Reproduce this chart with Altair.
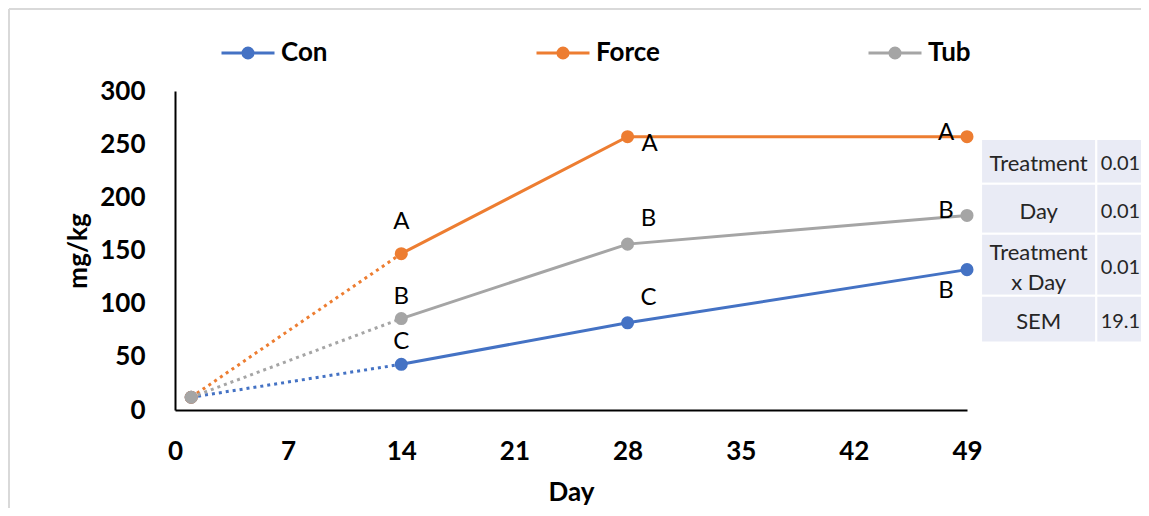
import altair as alt
import pandas as pd

# ---------------- data ----------------
series = ["Con", "Force", "Tub"]
colors = ["#4472C4", "#ED7D31", "#A5A5A5"]
days = [1, 14, 28, 49]
con_values = [12, 43, 82, 132]
force_values = [12, 147, 257, 257]
tub_values = [12, 86, 156, 183]

letter_days = [14, 28, 49]
con_letters = ["C", "C", "B"]
force_letters = ["A", "A", "A"]
tub_letters = ["B", "B", "B"]
# placement style of each letter
con_places = ["above", "upright", "lowleft"]
force_places = ["above2", "right", "left"]
tub_places = ["above", "upright", "left"]

table_terms = ["Treatment", "Day", "Treatment\nx Day", "SEM"]
table_values = ["0.01", "0.01", "0.01", "19.1"]

x_ticks = [0, 7, 14, 21, 28, 35, 42, 49]
y_ticks = [0, 50, 100, 150, 200, 250, 300]

# ---------------- layout / style ----------------
FONT = "Lato"
place_offsets = {
    "above": (0, -22),
    "above2": (0, -32),
    "upright": (21, -25),
    "right": (22, 7),
    "left": (-21, -4),
    "lowleft": (-21, 21),
}
# table grid expressed in axis units (day / mg/kg)
table_row_edges = [254.9, 212.7, 165.7, 107.5, 63.4]
table_col_edges = [49.87, 57.0, 61.5]
table_value_x = 57.27


def ring(r):
    return f"M{-r},0A{r},{r},0,1,0,{r},0A{r},{r},0,1,0,{-r},0"


legend_symbol = "M-1,0L1,0" + ring(0.19) + ring(0.1) + ring(0.02)

# ---------------- frames ----------------
vals = {"Con": con_values, "Force": force_values, "Tub": tub_values}
rows = []
for s in series:
    for d, v in zip(days, vals[s]):
        rows.append({"series": s, "day": d, "value": v})
df = pd.DataFrame(rows)

lets = {"Con": (con_letters, con_places), "Force": (force_letters, force_places),
        "Tub": (tub_letters, tub_places)}
lrows = []
for s in series:
    for d, l, p in zip(letter_days, *lets[s]):
        v = vals[s][days.index(d)]
        lrows.append({"series": s, "day": d, "value": v, "letter": l, "place": p})
ldf = pd.DataFrame(lrows)

trows = []
for i, (t, v) in enumerate(zip(table_terms, table_values)):
    trows.append({
        "term": t, "val": v, "multi": "\n" in t,
        "y1": table_row_edges[i], "y2": table_row_edges[i + 1],
        "ymid": (table_row_edges[i] + table_row_edges[i + 1]) / 2,
    })
tdf = pd.DataFrame(trows)
cells = []
for r in trows:
    for c in range(2):
        cells.append({"x1": table_col_edges[c], "x2": table_col_edges[c + 1],
                      "y1": r["y1"], "y2": r["y2"]})
cdf = pd.DataFrame(cells)

xs = alt.Scale(domain=[0, 49], nice=False, zero=False)
ys = alt.Scale(domain=[0, 300], nice=False)
cs = alt.Scale(domain=series, range=colors)

legend = alt.Legend(
    title=None, orient="none", legendX=45, legendY=-66, direction="horizontal",
    columns=3, columnPadding=202, padding=0,
    symbolType=legend_symbol,
    symbolSize=2809, symbolStrokeWidth=3, labelOffset=5,
    labelFont=FONT, labelFontSize=26, labelFontWeight="bold", labelColor="black",
)

x_axis = alt.Axis(values=x_ticks, ticks=False, grid=False, domainColor="black", domainWidth=2,
                  labelFont=FONT, labelFontSize=26, labelFontWeight="bold", labelColor="black",
                  labelPadding=28, labelFlush=False, title="Day", titleFont=FONT,
                  titleFontSize=26, titleFontWeight="bold", titleColor="black", titlePadding=15)
y_axis = alt.Axis(values=y_ticks, ticks=False, grid=False, domainColor="black", domainWidth=2,
                  labelFont=FONT, labelFontSize=26, labelFontWeight="bold", labelColor="black",
                  labelPadding=30, title="mg/kg", titleFont=FONT, titleFontSize=26,
                  titleFontWeight="bold", titleColor="black", titlePadding=8)

base = alt.Chart(df)
solid = base.transform_filter("datum.day >= 14").mark_line(strokeWidth=3).encode(
    x=alt.X("day:Q", scale=xs, axis=x_axis),
    y=alt.Y("value:Q", scale=ys, axis=y_axis),
    color=alt.Color("series:N", scale=cs, legend=legend),
)
dotted = base.transform_filter("datum.day <= 14").mark_line(
    strokeWidth=3, strokeDash=[3, 4]).encode(
    x=alt.X("day:Q", scale=xs),
    y=alt.Y("value:Q", scale=ys),
    color=alt.Color("series:N", scale=cs, legend=legend),
)
points = base.mark_point(filled=True, size=170, opacity=1).encode(
    x=alt.X("day:Q", scale=xs),
    y=alt.Y("value:Q", scale=ys),
    color=alt.Color("series:N", scale=cs, legend=legend),
)

letter_layers = []
for p, (dx, dy) in place_offsets.items():
    letter_layers.append(
        alt.Chart(ldf).transform_filter(f"datum.place === '{p}'").mark_text(
            font=FONT, fontSize=24, color="black", dx=dx, dy=dy, baseline="middle",
            align="center").encode(
            x=alt.X("day:Q", scale=xs), y=alt.Y("value:Q", scale=ys), text="letter:N")
    )

cells_layer = alt.Chart(cdf).mark_rect(fill="#E9EBF5", stroke="white", strokeWidth=2).encode(
    x=alt.X("x1:Q", scale=xs), x2="x2:Q",
    y=alt.Y("y1:Q", scale=ys), y2="y2:Q",
)
xm = str((table_col_edges[0] + table_col_edges[1]) / 2)
term_text = alt.Chart(tdf).transform_filter("!datum.multi").transform_calculate(
    xm=xm).mark_text(
    font=FONT, fontSize=22, color="#262626", align="center", baseline="middle", dy=3).encode(
    x=alt.X("xm:Q", scale=xs), y=alt.Y("ymid:Q", scale=ys), text="term:N")
term_text2 = alt.Chart(tdf).transform_filter("datum.multi").transform_calculate(
    xm=xm).mark_text(
    font=FONT, fontSize=22, color="#262626", align="center", baseline="middle",
    lineBreak="\n", lineHeight=30, dy=-12).encode(
    x=alt.X("xm:Q", scale=xs), y=alt.Y("ymid:Q", scale=ys), text="term:N")
val_text = alt.Chart(tdf).transform_calculate(xv=str(table_value_x)).mark_text(
    font=FONT, fontSize=20, color="#262626", align="left", baseline="middle", dy=3).encode(
    x=alt.X("xv:Q", scale=xs), y=alt.Y("ymid:Q", scale=ys), text="val:N")

frame_top = alt.Chart(df).mark_rule(color="#D9D9D9", strokeWidth=2).encode(
    x=alt.value(-166), x2=alt.value(1000), y=alt.value(-82))
frame_left = alt.Chart(df).mark_rule(color="#D9D9D9", strokeWidth=2).encode(
    x=alt.value(-166), y=alt.value(-82), y2=alt.value(430))

chart = alt.layer(
    frame_top, frame_left, cells_layer, term_text, term_text2, val_text,
    dotted, solid, points, *letter_layers
).properties(
    width=792, height=319,
    autosize=alt.AutoSizeParams(type="none"),
    padding={"left": 167, "top": 83, "right": 174, "bottom": 98},
    background="white",
).configure_view(stroke=None)

chart.save("out.html", embed_options={"renderer": "svg", "actions": False})
